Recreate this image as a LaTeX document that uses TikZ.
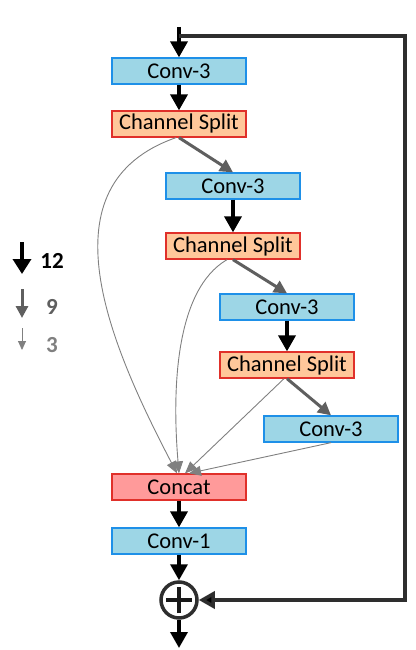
\documentclass[tikz,border=0pt]{standalone}
\usepackage{fontspec}
\setmainfont{Carlito}
\usepackage{xcolor}
\usetikzlibrary{arrows.meta}
\usetikzlibrary{positioning}

\definecolor{convfill}{HTML}{9DD6E6}
\definecolor{convedge}{HTML}{1E90E8}
\definecolor{splitfill}{HTML}{FFC79A}
\definecolor{splitedge}{HTML}{E0302A}
\definecolor{catfill}{HTML}{FF9A9A}
\definecolor{midgray}{HTML}{5F5F5F}
\definecolor{lightgray}{HTML}{808080}
\definecolor{skipgray}{HTML}{2E2E2E}

\tikzset{
blk/.style={draw,line width=1.3pt,minimum width=134pt,minimum height=26pt,inner sep=0pt,font=\fontsize{22.5}{26}\selectfont},
conv/.style={blk,fill=convfill,draw=convedge},
split/.style={blk,fill=splitfill,draw=splitedge},
cat/.style={blk,fill=catfill,draw=splitedge},
w12/.style={line width=3.5pt,draw=black,-{Triangle[length=16pt,width=17pt]}},
w9/.style={line width=3pt,draw=midgray,-{Triangle[length=13pt,width=13pt,fill=midgray]}},
w3/.style={line width=0.9pt,draw=lightgray,-{Triangle[length=12pt,width=10pt,fill=lightgray]}},
addnode/.style={circle,draw=skipgray,line width=3.5pt,minimum size=36pt,inner sep=0pt,
  path picture={\draw[line width=4.5pt,black!90] (path picture bounding box.center) ++(-13pt,0) -- ++(26pt,0)
  (path picture bounding box.center) ++(0,-13pt) -- ++(0,26pt);}},
lgd/.style={font=\fontsize{23}{26}\selectfont\bfseries}
}

\begin{document}
\begin{tikzpicture}[x=1pt,y=-1pt]
\useasboundingbox (0,0) rectangle (415,650);
\node[conv] (c1) at (179,71) {Conv-3};
\node[split] (s1) at (179,124) {Channel Split};
\node[conv] (c2) at (233,186) {Conv-3};
\node[split] (s2) at (233,246) {Channel Split};
\node[conv] (c3) at (287,307) {Conv-3};
\node[split] (s3) at (287,365) {Channel Split};
\node[conv] (c4) at (331,429) {Conv-3};
\node[cat] (cat) at (179,487) {Concat};
\node[conv] (c5) at (179,541) {Conv-1};
\node[addnode] (add) at (179,600) {};
\coordinate (in) at (179,27);
\coordinate (br) at (179,36);
\coordinate (tr) at (405,36);
\coordinate (out) at (179,648);

\draw[w12] (in) -- (c1);
\draw[w12] (c1) -- (s1);
\draw[w12] (c2) -- (s2);
\draw[w12] (c3) -- (s3);
\draw[w12] (cat) -- (c5);
\draw[w12] (c5) -- (add);
\draw[w12] (add) -- (out);
\draw[line width=3.5pt,draw=skipgray,-{Triangle[length=16pt,width=17pt,fill=black]}] (br) -- (tr) |- (add);

\draw[w9] (s1.south) -- (c2.north);
\draw[w9] (s2.south) -- (c3.north);
\draw[w9] (s3.south) -- (c4.north);

\draw[w3] ([xshift=-3pt]s1.south) .. controls (40,185) and (110,345) .. ([xshift=-2pt]cat.north);
\draw[w3] ([xshift=-6pt]s2.south) .. controls (175,290) and (172,390) .. (cat.north);
\draw[w3] ([xshift=-3pt]s3.south) -- ([xshift=6pt]cat.north);
\draw[w3] (c4.south) -- ([xshift=10pt]cat.north);

\coordinate (l12a) at (22,242);
\coordinate (l12b) at (22,274);
\coordinate (l9a) at (22,289);
\coordinate (l9b) at (22,318);
\coordinate (l3a) at (22,328);
\coordinate (l3b) at (22,350);
\draw[w12,-{Triangle[length=15pt,width=18pt]}] (l12a) -- (l12b);
\draw[w9,-{Triangle[length=12pt,width=12pt,fill=midgray]}] (l9a) -- (l9b);
\draw[w3,-{Triangle[length=9pt,width=8pt,fill=lightgray]}] (l3a) -- (l3b);
\node[lgd,text=black] (n12) at (52,261) {12};
\node[lgd,text=midgray] (n9) at (52,307) {9};
\node[lgd,text=lightgray] (n3) at (52,345) {3};
\end{tikzpicture}
\end{document}
